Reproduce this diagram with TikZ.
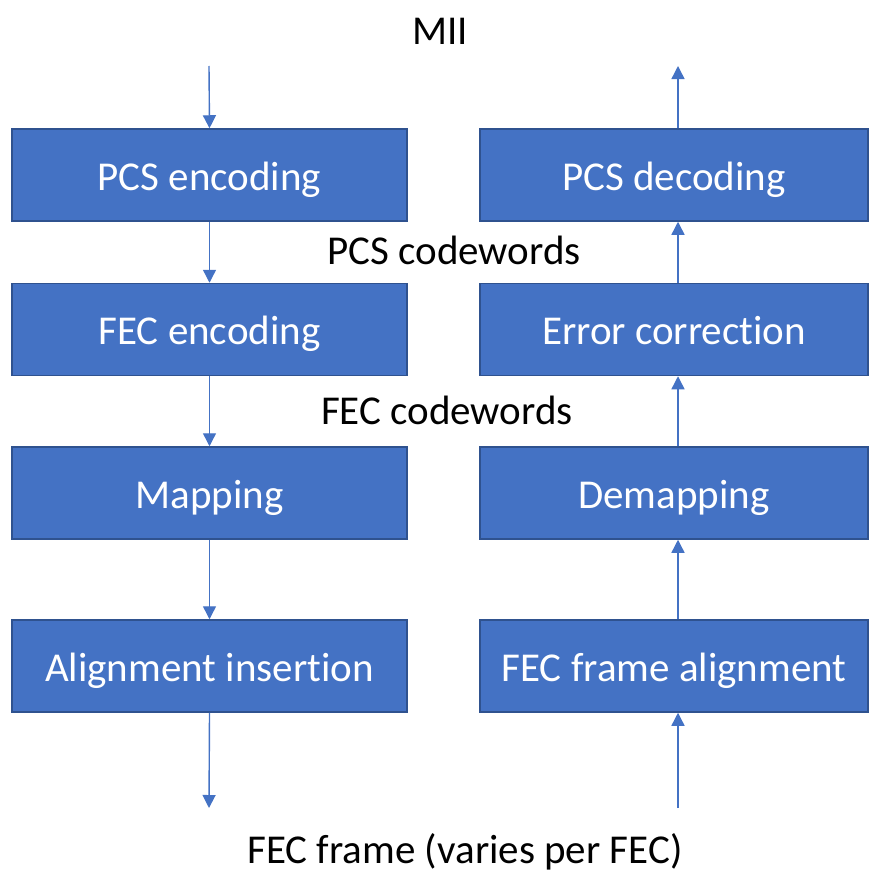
\documentclass[tikz,border=0pt]{standalone}
\usepackage{fontspec}
\setmainfont{Carlito}[Ligatures=NoCommon]
\usetikzlibrary{positioning,calc,arrows.meta}
\definecolor{boxblue}{HTML}{4472C4}
\definecolor{boxedge}{HTML}{2F528F}

\begin{document}
\begin{tikzpicture}[x=1pt,y=-1pt,
  blk/.style={draw=boxedge, line width=1.5pt, fill=boxblue, text=white,
              font=\fontsize{41}{48}\selectfont, inner sep=0pt,
              text height=30pt, text depth=0pt, minimum height=92pt},
  lbl/.style={font=\fontsize{41}{48}\selectfont, inner sep=0pt},
  flow/.style={draw=boxblue, line width=1.4pt,
               -{Triangle[width=13pt,length=13pt]}}]
\useasboundingbox (0,0) rectangle (870,875);

% transmit side
\node[blk, minimum width=395pt] (pcsenc) at (209.5,175) {PCS encoding};
\node[blk, minimum width=395pt] (fecenc) at (209.5,329.5) {FEC encoding};
\node[blk, minimum width=395pt] (map) at (209.5,493) {Mapping};
\node[blk, minimum width=395pt] (alins) at (209.5,666) {Alignment insertion};

% receive side
\node[blk, minimum width=388pt] (pcsdec) at (674,175) {PCS decoding};
\node[blk, minimum width=388pt] (errcor) at (674,329.5) {Error correction};
\node[blk, minimum width=388pt] (demap) at (674,493) {Demapping};
\node[blk, minimum width=388pt] (fecal) at (674,666) {FEC frame alignment};

% labels
\node[lbl] (mii) at (440,31) {MII};
\node[lbl] (pcscw) at (454,250) {PCS codewords};
\node[lbl] (feccw) at (447,410) {FEC codewords};
\node[lbl] (frame) at (465,852) {FEC frame (varies per FEC)};

\coordinate (txin) at (209,66);
\coordinate (txout) at (209,808);
\coordinate (rxin) at (678,808);
\coordinate (rxout) at (678,66);

\draw[flow] (txin) -- (pcsenc.north);
\draw[flow] (pcsenc.south) -- (fecenc.north);
\draw[flow] (fecenc.south) -- (map.north);
\draw[flow] (map.south) -- (alins.north);
\draw[flow] (alins.south) -- (txout);

\draw[flow] (rxin) -- ($(fecal.south)+(4,0)$);
\draw[flow] ($(fecal.north)+(4,0)$) -- ($(demap.south)+(4,0)$);
\draw[flow] ($(demap.north)+(4,0)$) -- ($(errcor.south)+(4,0)$);
\draw[flow] ($(errcor.north)+(4,0)$) -- ($(pcsdec.south)+(4,0)$);
\draw[flow] ($(pcsdec.north)+(4,0)$) -- (rxout);
\end{tikzpicture}
\end{document}
